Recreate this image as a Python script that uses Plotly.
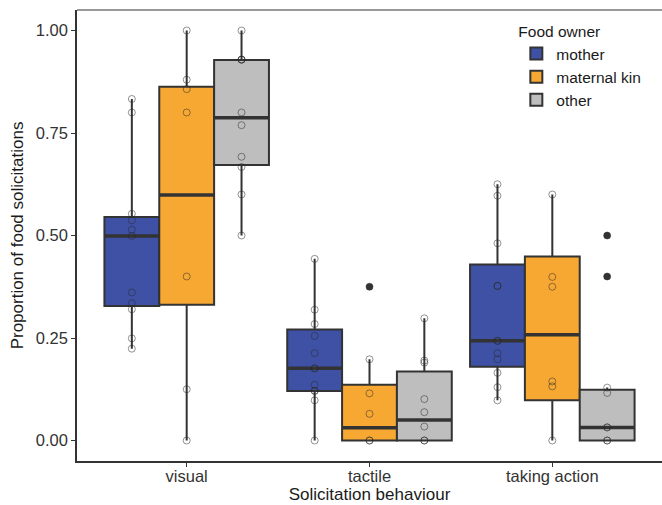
import plotly.graph_objects as go

# ---- data ----
categories = ["visual", "tactile", "taking action"]
owners = ["mother", "maternal kin", "other"]
colors = ["#3F51A5", "#F7A833", "#BEBEBE"]

# box statistics per owner, per category (visual, tactile, taking action)
lower_whisker = {
    "mother":       [0.224, 0.000, 0.098],
    "maternal kin": [0.000, 0.000, 0.000],
    "other":        [0.500, 0.000, 0.000],
}
q1 = {
    "mother":       [0.328, 0.121, 0.180],
    "maternal kin": [0.331, 0.000, 0.098],
    "other":        [0.672, 0.000, 0.000],
}
median = {
    "mother":       [0.499, 0.176, 0.243],
    "maternal kin": [0.599, 0.031, 0.258],
    "other":        [0.787, 0.050, 0.032],
}
q3 = {
    "mother":       [0.545, 0.271, 0.429],
    "maternal kin": [0.863, 0.136, 0.449],
    "other":        [0.928, 0.168, 0.124],
}
upper_whisker = {
    "mother":       [0.833, 0.443, 0.625],
    "maternal kin": [1.000, 0.198, 0.600],
    "other":        [1.000, 0.298, 0.129],
}

# individual observations (hollow points)
points = {
    "mother": [
        [0.833, 0.800, 0.553, 0.537, 0.514, 0.499, 0.361, 0.335, 0.320, 0.249, 0.224],
        [0.443, 0.319, 0.284, 0.255, 0.213, 0.176, 0.176, 0.136, 0.121, 0.121, 0.098, 0.000],
        [0.625, 0.597, 0.481, 0.377, 0.377, 0.243, 0.243, 0.213, 0.198, 0.165, 0.130, 0.098],
    ],
    "maternal kin": [
        [1.000, 0.880, 0.857, 0.800, 0.400, 0.125, 0.000],
        [0.375, 0.198, 0.115, 0.065, 0.000, 0.000],
        [0.600, 0.399, 0.375, 0.144, 0.132, 0.000],
    ],
    "other": [
        [1.000, 0.929, 0.929, 0.929, 0.800, 0.769, 0.692, 0.667, 0.600, 0.500],
        [0.298, 0.195, 0.190, 0.101, 0.069, 0.034, 0.000, 0.000],
        [0.500, 0.400, 0.129, 0.116, 0.032, 0.032, 0.000, 0.000],
    ],
}

# outliers (filled points drawn by the boxplot)
outliers = {
    "mother":       [[], [], []],
    "maternal kin": [[], [0.375], []],
    "other":        [[], [], [0.500, 0.400]],
}

# ---- layout helpers ----
cat_pos = [i + 1 for i in range(len(categories))]
dodge = 0.9 / len(owners)
font_family = "Liberation Sans, Arial, sans-serif"

fig = go.Figure()

for j, owner in enumerate(owners):
    offset = (j - (len(owners) - 1) / 2) * dodge
    xs = [p + offset for p in cat_pos]
    fig.add_trace(go.Box(
        name=owner,
        x=xs,
        q1=q1[owner],
        median=median[owner],
        q3=q3[owner],
        lowerfence=lower_whisker[owner],
        upperfence=upper_whisker[owner],
        width=dodge,
        whiskerwidth=0,
        fillcolor=colors[j],
        line=dict(color="#333333", width=2),
        boxpoints=False,
        legendgroup=owner,
        hoverinfo="skip",
    ))

# thicker median lines
for j, owner in enumerate(owners):
    offset = (j - (len(owners) - 1) / 2) * dodge
    for k, p in enumerate(cat_pos):
        x0 = p + offset - dodge / 2
        x1 = p + offset + dodge / 2
        fig.add_trace(go.Scatter(
            x=[x0, x1], y=[median[owner][k]] * 2, mode="lines",
            line=dict(color="#333333", width=3.5),
            showlegend=False, hoverinfo="skip", legendgroup=owner,
        ))

# outliers
for j, owner in enumerate(owners):
    offset = (j - (len(owners) - 1) / 2) * dodge
    xo, yo = [], []
    for k, p in enumerate(cat_pos):
        xo += [p + offset] * len(outliers[owner][k])
        yo += outliers[owner][k]
    if yo:
        fig.add_trace(go.Scatter(
            x=xo, y=yo, mode="markers",
            marker=dict(symbol="circle", size=7, color="#333333"),
            showlegend=False, hoverinfo="skip", legendgroup=owner,
        ))

# observations
for j, owner in enumerate(owners):
    offset = (j - (len(owners) - 1) / 2) * dodge
    xp, yp = [], []
    for k, p in enumerate(cat_pos):
        xp += [p + offset] * len(points[owner][k])
        yp += points[owner][k]
    fig.add_trace(go.Scatter(
        x=xp, y=yp, mode="markers",
        marker=dict(symbol="circle-open", size=7,
                    color="rgba(40,40,40,0.5)", line=dict(width=1)),
        showlegend=False, hoverinfo="skip", legendgroup=owner,
    ))

fig.update_layout(
    width=662, height=505,
    margin=dict(l=77, r=0, t=10, b=44),
    paper_bgcolor="white", plot_bgcolor="white",
    font=dict(family=font_family, size=16, color="#4D4D4D"),
    showlegend=True,
    legend=dict(
        title=dict(text="Food owner", font=dict(size=15.5, color="#1a1a1a")),
        x=0.751, y=0.985, xanchor="left", yanchor="top",
        font=dict(size=15.5, color="#1a1a1a"),
        bgcolor="rgba(255,255,255,0)",
        tracegroupgap=5,
        traceorder="normal",
    ),
    xaxis=dict(
        range=[0.4, 3.6],
        tickmode="array", tickvals=cat_pos, ticktext=categories,
        showgrid=False, zeroline=False,
        showline=True, linecolor="#333333", linewidth=1.5,
        ticks="outside", ticklen=4, tickcolor="#333333", tickwidth=1,
        ticklabelstandoff=-5,
        tickfont=dict(size=16.5, color="#333333"),
        title=dict(text="Solicitation behaviour", standoff=4,
                   font=dict(size=17, color="#1a1a1a")),
    ),
    yaxis=dict(
        range=[-0.05, 1.05],
        tickmode="array", tickvals=[0, 0.25, 0.5, 0.75, 1.0],
        ticktext=["0.00", "0.25", "0.50", "0.75", "1.00"],
        showgrid=False, zeroline=False,
        showline=True, linecolor="#333333", linewidth=1.5,
        ticks="outside", ticklen=4, tickcolor="#333333", tickwidth=1,
        tickfont=dict(size=16.5, color="#333333"),
        title=dict(text="Proportion of food solicitations", standoff=8,
                   font=dict(size=17, color="#1a1a1a")),
    ),
    shapes=[dict(type="line", xref="paper", yref="paper",
                 x0=0, x1=1, y0=1, y1=1,
                 line=dict(color="#777777", width=1.5))],
)

fig.write_html("out.html")
